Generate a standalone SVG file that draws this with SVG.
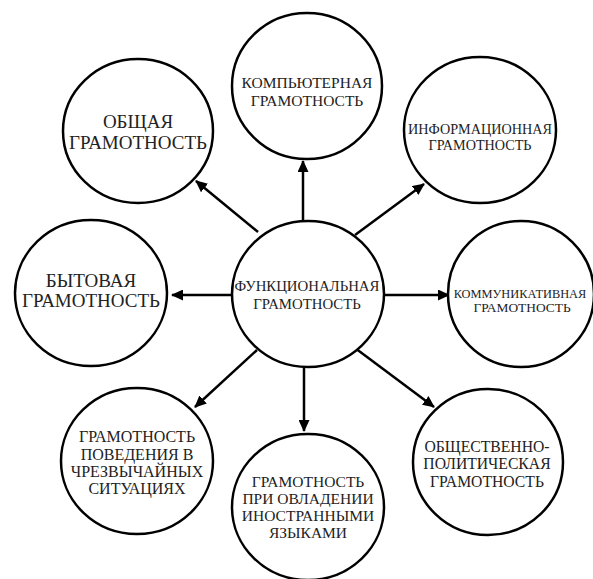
<svg xmlns="http://www.w3.org/2000/svg" width="593" height="579" viewBox="0 0 593 579">
<defs>
<style>
.n{fill:#fff;stroke:#000;stroke-width:2.5}
.t{font-family:'Liberation Serif','Times New Roman',serif;fill:#222;text-anchor:middle}
.c{stroke:#000;stroke-width:2.5;fill:none;marker-end:url(#ah)}
</style>
<marker id="ah" markerWidth="12" markerHeight="11" refX="11" refY="5.5" orient="auto" markerUnits="userSpaceOnUse" viewBox="0 0 12 11">
<path d="M0,0 L12,5.5 L0,11 z" fill="#000"/>
</marker>
</defs>
<rect width="593" height="579" fill="#fff"/>
<g id="connectors">
<line class="c" x1="258" y1="232" x2="196" y2="181"/>
<line class="c" x1="303" y1="220" x2="303" y2="161"/>
<line class="c" x1="355" y1="235" x2="424" y2="184"/>
<line class="c" x1="232" y1="295" x2="172" y2="295"/>
<line class="c" x1="384" y1="295" x2="449" y2="295"/>
<line class="c" x1="257" y1="350" x2="195" y2="407"/>
<line class="c" x1="304" y1="367" x2="304" y2="431"/>
<line class="c" x1="355" y1="348" x2="434" y2="407"/>
</g>
<g id="obshchaya">
<ellipse class="n" cx="138" cy="131" rx="75" ry="72"/>
<text class="t" font-size="19"><tspan x="138" y="128">ОБЩАЯ</tspan><tspan x="138" y="149">ГРАМОТНОСТЬ</tspan></text>
</g>
<g id="kompyuternaya">
<ellipse class="n" cx="307" cy="86" rx="75" ry="73"/>
<text class="t" font-size="15.5"><tspan x="307" y="88">КОМПЬЮТЕРНАЯ</tspan><tspan x="307" y="106">ГРАМОТНОСТЬ</tspan></text>
</g>
<g id="informatsionnaya">
<ellipse class="n" cx="480" cy="130" rx="76" ry="73"/>
<text class="t" font-size="14.2"><tspan x="480" y="134">ИНФОРМАЦИОННАЯ</tspan><tspan x="480" y="150">ГРАМОТНОСТЬ</tspan></text>
</g>
<g id="bytovaya">
<ellipse class="n" cx="91" cy="293" rx="76" ry="73"/>
<text class="t" font-size="19"><tspan x="91" y="287">БЫТОВАЯ</tspan><tspan x="91" y="307">ГРАМОТНОСТЬ</tspan></text>
</g>
<g id="funktsionalnaya">
<ellipse class="n" cx="308" cy="294" rx="76" ry="73"/>
<text class="t" font-size="14.8"><tspan x="307" y="291">ФУНКЦИОНАЛЬНАЯ</tspan><tspan x="307" y="309">ГРАМОТНОСТЬ</tspan></text>
</g>
<g id="kommunikativnaya">
<ellipse class="n" cx="521" cy="294" rx="73" ry="73"/>
<text class="t"><tspan x="520" y="298" font-size="12.4">КОММУНИКАТИВНАЯ</tspan><tspan x="522" y="312" font-size="13.4">ГРАМОТНОСТЬ</tspan></text>
</g>
<g id="povedeniya">
<ellipse class="n" cx="137" cy="461" rx="76" ry="73"/>
<text class="t" font-size="16"><tspan x="137" y="442">ГРАМОТНОСТЬ</tspan><tspan x="137" y="460">ПОВЕДЕНИЯ В</tspan><tspan x="137" y="477">ЧРЕЗВЫЧАЙНЫХ</tspan><tspan x="137" y="494">СИТУАЦИЯХ</tspan></text>
</g>
<g id="ovladenii">
<ellipse class="n" cx="308" cy="507" rx="76" ry="73"/>
<text class="t" font-size="15.5"><tspan x="308" y="487">ГРАМОТНОСТЬ</tspan><tspan x="308" y="504">ПРИ ОВЛАДЕНИИ</tspan><tspan x="308" y="521">ИНОСТРАННЫМИ</tspan><tspan x="308" y="538">ЯЗЫКАМИ</tspan></text>
</g>
<g id="obshchestvenno">
<ellipse class="n" cx="488" cy="462" rx="75" ry="73"/>
<text class="t" font-size="15.7"><tspan x="487" y="452">ОБЩЕСТВЕННО-</tspan><tspan x="487" y="469">ПОЛИТИЧЕСКАЯ</tspan><tspan x="487" y="487">ГРАМОТНОСТЬ</tspan></text>
</g>
</svg>
